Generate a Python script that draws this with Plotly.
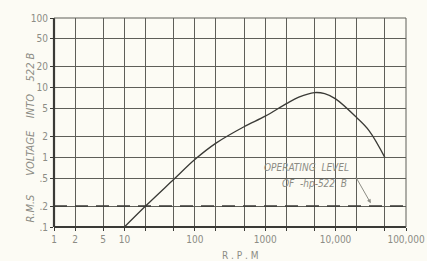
import plotly.graph_objects as go

rpm = [10, 20, 50, 100, 200, 500, 1000, 2000, 3000, 5000, 7000, 10000, 20000, 30000, 50000]
volts = [0.1, 0.2, 0.48, 0.93, 1.6, 2.75, 3.9, 5.9, 7.3, 8.5, 8.2, 6.9, 3.7, 2.4, 1.0]

operating_level = 0.2
x_ticks = [1, 2, 5, 10, 20, 50, 100, 200, 500, 1000, 2000, 5000, 10000, 20000, 50000, 100000]
x_labels = ["1", "2", "5", "10", "", "", "100", "", "", "1000", "", "", "10,000", "", "", "100,000"]
y_ticks = [0.1, 0.2, 0.5, 1, 2, 5, 10, 20, 50, 100]
y_labels = [".1", ".2", ".5", "1", "2", "5", "10", "20", "50", "100"]

ink = "#3a3a36"
grid = "#5e5e58"
txt = "#8c8c84"
bg = "#fcfbf4"
font = "Liberation Sans Narrow, DejaVu Sans Condensed, sans-serif"

fig = go.Figure()
fig.add_trace(go.Scatter(x=[1, 100000], y=[operating_level, operating_level], mode="lines",
                         line=dict(color=ink, width=1.6, dash="13px,8px"), hoverinfo="skip"))
fig.add_trace(go.Scatter(x=rpm, y=volts, mode="lines", line=dict(color=ink, width=1.3, shape="spline", smoothing=1.0)))

fig.update_xaxes(type="log", range=[0, 5], tickvals=x_ticks, ticktext=x_labels, automargin=False,
                 showgrid=True, gridcolor=grid, gridwidth=1, zeroline=False,
                 ticks="outside", ticklen=3, tickcolor=ink,
                 tickfont=dict(family=font, size=10, color=txt))
fig.update_yaxes(type="log", range=[-1, 2], tickvals=y_ticks, ticktext=y_labels, automargin=False,
                 showgrid=True, gridcolor=grid, gridwidth=1, zeroline=False,
                 ticks="outside", ticklen=3, tickcolor=ink,
                 tickfont=dict(family=font, size=10, color=txt))

# axis titles
fig.add_annotation(x=-0.091, y=0.43, xref="paper", yref="paper", textangle=-90, showarrow=False,
                   text="<i>R.M.S      VOLTAGE    INTO    522 B</i>",
                   font=dict(family=font, size=11, color=txt))
fig.add_annotation(x=0.53, y=-0.135, xref="paper", yref="paper", yanchor="middle", showarrow=False,
                   text="R . P . M", font=dict(family=font, size=10, color=txt))

# frame: thick left/bottom, thin top/right
fig.add_shape(type="line", xref="paper", yref="paper", x0=0, x1=0, y0=0, y1=1, line=dict(color=ink, width=2.2))
fig.add_shape(type="line", xref="paper", yref="paper", x0=0, x1=1, y0=0, y1=0, line=dict(color=ink, width=2.2))
fig.add_shape(type="line", xref="paper", yref="paper", x0=0, x1=1, y0=1, y1=1, line=dict(color=grid, width=1))
fig.add_shape(type="line", xref="paper", yref="paper", x0=1, x1=1, y0=0, y1=1, line=dict(color=grid, width=1))

fig.add_annotation(x=3.58, y=-0.15, xref="x", yref="y", text="<i>OPERATING  LEVEL</i>", showarrow=False,
                   font=dict(family=font, size=10, color=txt), xanchor="center")
fig.add_annotation(x=3.7, y=-0.38, xref="x", yref="y", text="<i>OF  -hp-522  B</i>", showarrow=False,
                   font=dict(family=font, size=10, color=txt), xanchor="center")
fig.add_annotation(x=4.5, y=-0.66, ax=4.28, ay=-0.27, xref="x", yref="y", axref="x", ayref="y",
                   text="", showarrow=True, arrowhead=2, arrowsize=0.8, arrowwidth=1, arrowcolor=txt)

fig.update_layout(width=427, height=261, margin=dict(l=54, r=21, t=18, b=34),
                  paper_bgcolor=bg, plot_bgcolor=bg, showlegend=False)
fig.write_html("out.html", config={"displayModeBar": False},
               post_script="document.body.style.margin='0';document.body.style.background='" + bg + "';document.body.style.overflow='hidden';")
